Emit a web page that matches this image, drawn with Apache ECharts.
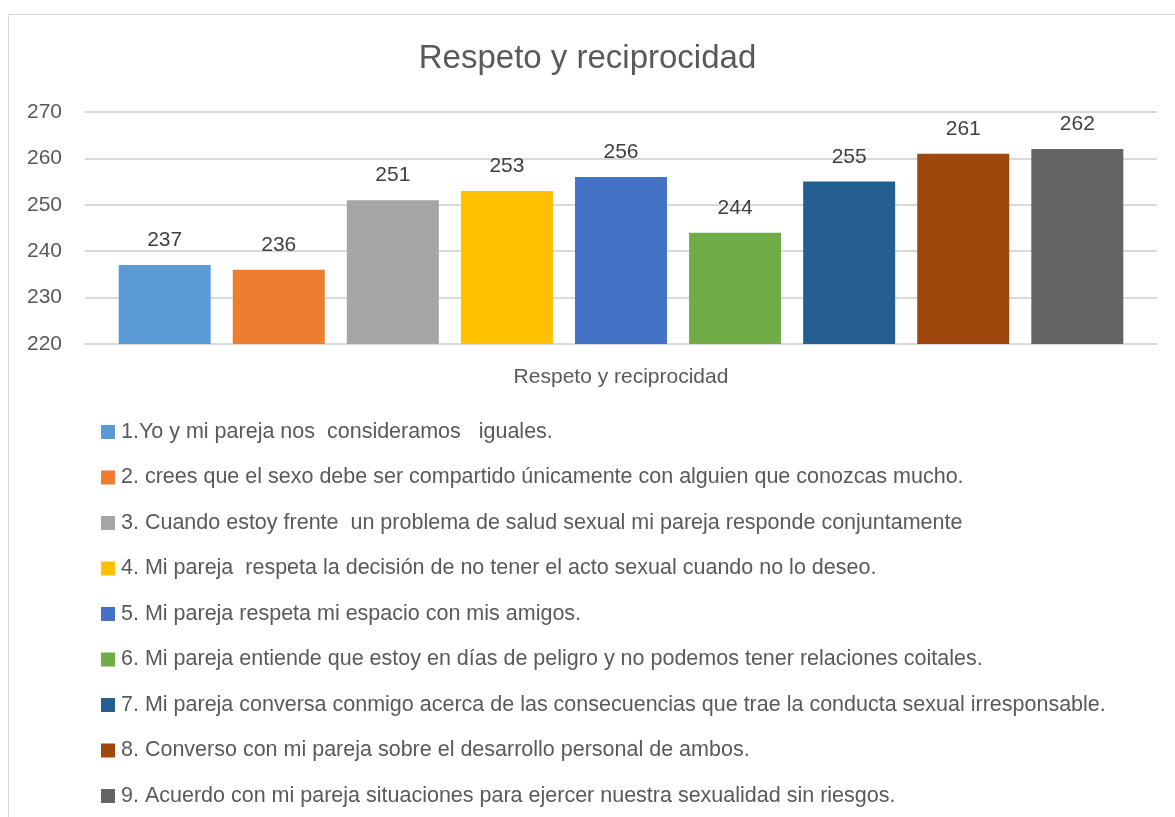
<!doctype html>
<html>
	<head>
		<meta charset="utf-8">
		<title>Respeto y reciprocidad</title>
		<style>
			html, body { margin: 0; padding: 0; background: #fff; }
			#frame {
				position: absolute; left: 8px; top: 14px; width: 1180px; height: 820px;
				border: 1.5px solid #d9d9d9; box-sizing: border-box;
			}
			#chart { position: absolute; left: 0; top: 0; width: 1175px; height: 817px; }
		</style>
	</head>
	<body>
		<div id="frame"></div>
		<div id="chart"></div>
		<script src="https://cdn.jsdelivr.net/npm/echarts@6/dist/echarts.min.js"></script>
		<script type="text/javascript">
			// categoria unica del eje x
			var categorias = ['Respeto y reciprocidad'];
			// nombres de las series (leyenda)
			var preguntas = [
				'1.Yo y mi pareja nos  consideramos   iguales.',
				'2. crees que el sexo debe ser compartido únicamente con alguien que conozcas mucho.',
				'3. Cuando estoy frente  un problema de salud sexual mi pareja responde conjuntamente',
				'4. Mi pareja  respeta la decisión de no tener el acto sexual cuando no lo deseo.',
				'5. Mi pareja respeta mi espacio con mis amigos.',
				'6. Mi pareja entiende que estoy en días de peligro y no podemos tener relaciones coitales.',
				'7. Mi pareja conversa conmigo acerca de las consecuencias que trae la conducta sexual irresponsable.',
				'8. Converso con mi pareja sobre el desarrollo personal de ambos.',
				'9. Acuerdo con mi pareja situaciones para ejercer nuestra sexualidad sin riesgos.'
			];
			var valores = [237, 236, 251, 253, 256, 244, 255, 261, 262];
			var colores = ['#5B9BD5', '#ED7D31', '#A5A5A5', '#FFC000', '#4472C4', '#70AD47', '#255E91', '#9E480E', '#636363'];

			var fuente = 'Liberation Sans';
			var series = [];
			for (var i = 0; i < preguntas.length; i++) {
				series.push({
					name: preguntas[i],
					type: 'bar',
					data: [valores[i]],
					barWidth: 92,
					barGap: '24%',
					itemStyle: { color: colores[i] },
					label: {
						show: true,
						position: 'top',
						distance: 14,
						color: '#404040',
						fontSize: 21,
						fontFamily: fuente
					}
				});
			}

			var chart = echarts.init(document.getElementById('chart'));
			chart.setOption({
				animation: false,
				color: colores,
				title: {
					text: 'Respeto y reciprocidad',
					left: 'center',
					top: 37,
					textStyle: { color: '#595959', fontSize: 33, fontWeight: 'normal', fontFamily: fuente }
				},
				legend: {
					orient: 'vertical',
					left: 96,
					top: 416,
					height: 400,
					itemWidth: 14,
					itemHeight: 14,
					itemGap: 23.5,
					icon: 'rect',
					textStyle: { color: '#595959', fontSize: 21.5, fontFamily: fuente, padding: [0, 0, 0, 1] },
					data: preguntas
				},
				grid: {
					left: 85,
					right: 18,
					top: 112,
					bottom: 473
				},
				xAxis: {
					type: 'category',
					data: categorias,
					axisLine: { lineStyle: { color: '#d9d9d9', width: 2 } },
					axisTick: { show: false },
					axisLabel: { color: '#595959', fontSize: 21, fontFamily: fuente, margin: 23 }
				},
				yAxis: {
					type: 'value',
					min: 220,
					max: 270,
					interval: 10,
					axisLine: { show: false },
					axisTick: { show: false },
					splitLine: { lineStyle: { color: '#d9d9d9', width: 2 } },
					axisLabel: { color: '#595959', fontSize: 21, fontFamily: fuente, margin: 23 }
				},
				series: series
			});
		</script>
	</body>
</html>
